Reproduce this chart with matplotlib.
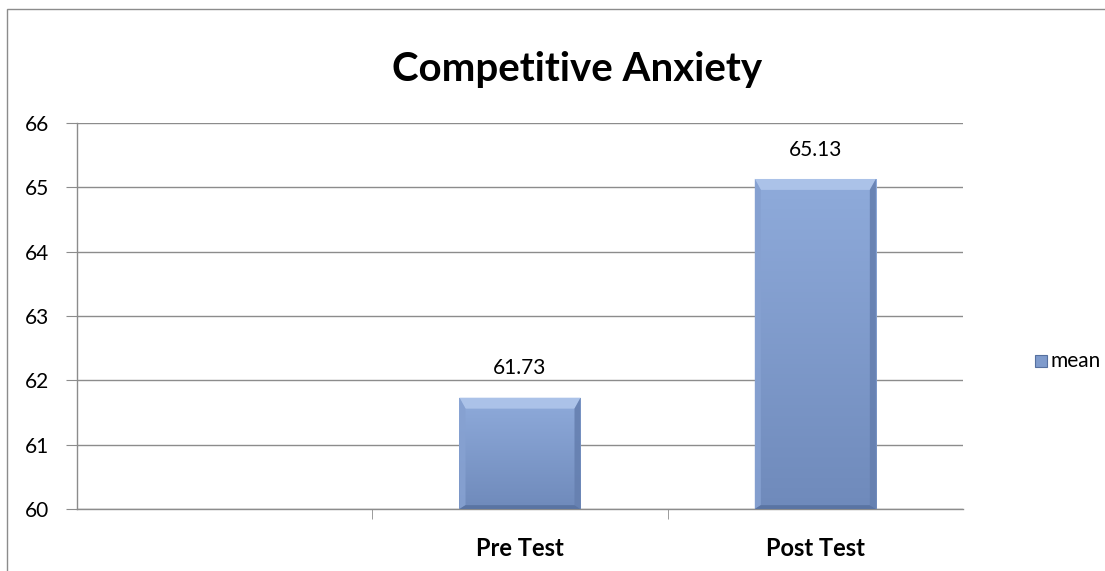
import numpy as np
import matplotlib.pyplot as plt
from matplotlib.patches import Polygon, Rectangle
from matplotlib.colors import LinearSegmentedColormap

# Dados do gráfico
categorias = ['', 'Pre Test', 'Post Test']
medias = [np.nan, 61.73, 65.13]
serie = 'mean'
y_ticks = [60, 61, 62, 63, 64, 65, 66]

plt.rcParams['font.family'] = ['Lato', 'DejaVu Sans']

fig = plt.figure(figsize=(11.05, 5.71), dpi=100)
# moldura externa do gráfico
fig.add_artist(Rectangle((7 / 1105, -0.01), 1.2, 1 - 9 / 571 + 0.01,
                         transform=fig.transFigure, fill=False,
                         edgecolor='#8c8c8c', linewidth=1.0))

ax = fig.add_axes([77 / 1105, 1 - 509 / 571, (963 - 77) / 1105, (509 - 123) / 571])
x = np.arange(len(categorias))
base = y_ticks[0]
alturas = [m - base if not np.isnan(m) else 0 for m in medias]
barras = ax.bar(x, alturas, bottom=base, width=0.41, color='#7f9bcc',
                edgecolor='none', zorder=3)

cmap = LinearSegmentedColormap.from_list('g', ['#6f8abb', '#8fabdb'])

# efeito de bisel nas barras
for b, m in zip(barras, medias):
    if np.isnan(m):
        continue
    x0, y0 = b.get_x(), b.get_y()
    w, h = b.get_width(), b.get_height()
    x1, y1 = x0 + w, y0 + h
    grad = np.linspace(0, 1, 256).reshape(-1, 1)
    im = ax.imshow(grad, extent=[x0, x1, y0, y1], origin='lower', cmap=cmap,
                   aspect='auto', zorder=3)
    im.set_clip_path(b)
    dx = w * 0.05
    dy = 0.17
    dyb = 0.06
    ax.add_patch(Polygon([(x0, y1), (x1, y1), (x1 - dx, y1 - dy), (x0 + dx, y1 - dy)],
                         closed=True, facecolor='#abc2e8', edgecolor='none', zorder=4))
    ax.add_patch(Polygon([(x0, y0), (x0, y1), (x0 + dx, y1 - dy), (x0 + dx, y0 + dyb)],
                         closed=True, facecolor='#86a1d1', edgecolor='none', alpha=0.9, zorder=4))
    ax.add_patch(Polygon([(x1, y0), (x1, y1), (x1 - dx, y1 - dy), (x1 - dx, y0 + dyb)],
                         closed=True, facecolor='#6680b0', edgecolor='none', alpha=0.9, zorder=4))
    ax.add_patch(Polygon([(x0, y0), (x1, y0), (x1 - dx, y0 + dyb), (x0 + dx, y0 + dyb)],
                         closed=True, facecolor='#5a74a3', edgecolor='none', zorder=4))
    ax.text(b.get_x() + w / 2, m + 0.30, f'{m:.2f}', ha='center', va='bottom',
            fontsize=15, color='black', zorder=5)

ax.set_xlim(-0.5, len(categorias) - 0.5)
ax.set_ylim(y_ticks[0], y_ticks[-1])
ax.set_yticks(y_ticks)
ax.set_yticklabels([str(t) for t in y_ticks], fontsize=15)
ax.set_xticks(x)
ax.set_xticklabels(categorias, fontsize=17, fontweight='bold')
ax.set_xticks(x[:-1] + 0.5, minor=True)
ax.tick_params(axis='x', which='major', length=0, pad=20)
ax.tick_params(axis='x', which='minor', length=7, color='#8c8c8c', direction='out')
ax.tick_params(axis='y', length=8, color='#8c8c8c', pad=12)
ax.grid(axis='y', color='#8c8c8c', linewidth=1.0, zorder=0)
for s in ['top', 'right']:
    ax.spines[s].set_visible(False)
for s in ['left', 'bottom']:
    ax.spines[s].set_color('#8c8c8c')
    ax.spines[s].set_linewidth(1.0)

# título centrado na área do gráfico
fig.text(577 / 1105, 1 - 70 / 571, 'Competitive Anxiety', fontsize=29,
         fontweight='bold', ha='center', va='center')

# legenda
fig.text(1050 / 1105, 1 - 361 / 571, serie, fontsize=15, va='center', ha='left')
fig.add_artist(Rectangle((1035 / 1105, 1 - 367 / 571), 12 / 1105, 12 / 571,
                         transform=fig.transFigure, facecolor='#7f9bcc',
                         edgecolor='#56709f', linewidth=0.8))

fig.savefig('out.png', dpi=100)
